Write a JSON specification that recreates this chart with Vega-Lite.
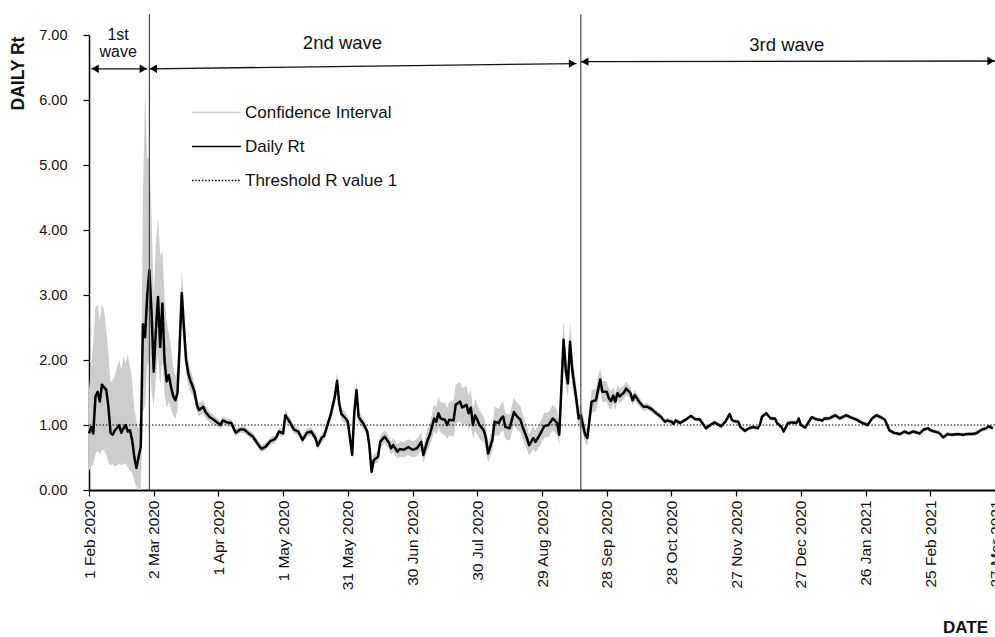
{
  "$schema": "https://vega.github.io/schema/vega-lite/v6.json",
  "width": 906,
  "height": 455,
  "autosize": {"type": "none"},
  "padding": {"left": 89, "top": 35, "right": 0, "bottom": 147},
  "background": "white",
  "config": {
    "font": "Liberation Sans",
    "view": {"stroke": null},
    "axis": {"grid": false, "domainColor": "#000", "tickColor": "#000", "labelColor": "#111", "titleColor": "#111"}
  },
  "datasets": {
    "rt": [
      {"d":"2020-02-01","rt":0.87,"lo":0.30,"hi":1.55},
      {"d":"2020-02-02","rt":0.97,"lo":0.35,"hi":1.90},
      {"d":"2020-02-03","rt":0.87,"lo":0.40,"hi":2.30},
      {"d":"2020-02-04","rt":1.44,"lo":0.55,"hi":2.82},
      {"d":"2020-02-05","rt":1.51,"lo":0.60,"hi":2.85},
      {"d":"2020-02-06","rt":1.36,"lo":0.55,"hi":2.60},
      {"d":"2020-02-07","rt":1.62,"lo":0.62,"hi":2.87},
      {"d":"2020-02-08","rt":1.58,"lo":0.60,"hi":2.75},
      {"d":"2020-02-09","rt":1.54,"lo":0.55,"hi":2.46},
      {"d":"2020-02-10","rt":1.28,"lo":0.42,"hi":2.10},
      {"d":"2020-02-11","rt":0.88,"lo":0.38,"hi":1.64},
      {"d":"2020-02-12","rt":0.85,"lo":0.40,"hi":1.70},
      {"d":"2020-02-13","rt":0.92,"lo":0.36,"hi":1.75},
      {"d":"2020-02-14","rt":0.95,"lo":0.38,"hi":1.90},
      {"d":"2020-02-15","rt":1.00,"lo":0.40,"hi":2.00},
      {"d":"2020-02-16","rt":0.88,"lo":0.38,"hi":1.85},
      {"d":"2020-02-17","rt":0.95,"lo":0.40,"hi":2.05},
      {"d":"2020-02-18","rt":1.00,"lo":0.41,"hi":1.95},
      {"d":"2020-02-19","rt":0.90,"lo":0.35,"hi":2.08},
      {"d":"2020-02-20","rt":0.92,"lo":0.30,"hi":1.90},
      {"d":"2020-02-21","rt":0.77,"lo":0.26,"hi":1.69},
      {"d":"2020-02-22","rt":0.51,"lo":0.15,"hi":1.25},
      {"d":"2020-02-23","rt":0.34,"lo":0.05,"hi":1.05},
      {"d":"2020-02-24","rt":0.51,"lo":0.00,"hi":0.95},
      {"d":"2020-02-25","rt":0.67,"lo":0.00,"hi":1.20},
      {"d":"2020-02-26","rt":2.55,"lo":1.20,"hi":4.50},
      {"d":"2020-02-27","rt":2.35,"lo":1.30,"hi":6.15},
      {"d":"2020-02-28","rt":3.00,"lo":1.90,"hi":5.10},
      {"d":"2020-02-29","rt":3.38,"lo":2.00,"hi":5.10},
      {"d":"2020-03-01","rt":2.72,"lo":1.50,"hi":4.20},
      {"d":"2020-03-02","rt":1.82,"lo":1.30,"hi":3.00},
      {"d":"2020-03-03","rt":2.46,"lo":1.70,"hi":3.80},
      {"d":"2020-03-04","rt":2.97,"lo":2.10,"hi":4.20},
      {"d":"2020-03-05","rt":2.20,"lo":1.60,"hi":3.60},
      {"d":"2020-03-06","rt":2.87,"lo":2.00,"hi":3.70},
      {"d":"2020-03-07","rt":2.00,"lo":1.50,"hi":3.00},
      {"d":"2020-03-08","rt":1.67,"lo":1.25,"hi":2.60},
      {"d":"2020-03-09","rt":1.77,"lo":1.35,"hi":2.40},
      {"d":"2020-03-10","rt":1.59,"lo":1.25,"hi":2.20},
      {"d":"2020-03-11","rt":1.45,"lo":1.15,"hi":1.90},
      {"d":"2020-03-12","rt":1.38,"lo":1.10,"hi":1.75},
      {"d":"2020-03-13","rt":1.49,"lo":1.20,"hi":1.85},
      {"d":"2020-03-14","rt":2.20,"lo":1.85,"hi":2.60},
      {"d":"2020-03-15","rt":3.03,"lo":2.65,"hi":3.38},
      {"d":"2020-03-16","rt":2.50,"lo":2.20,"hi":2.85},
      {"d":"2020-03-17","rt":2.00,"lo":1.80,"hi":2.30},
      {"d":"2020-03-18","rt":1.80,"lo":1.62,"hi":2.00},
      {"d":"2020-03-19","rt":1.68,"lo":1.52,"hi":1.85},
      {"d":"2020-03-20","rt":1.60,"lo":1.45,"hi":1.75},
      {"d":"2020-03-21","rt":1.50,"lo":1.38,"hi":1.64},
      {"d":"2020-03-22","rt":1.31,"lo":1.20,"hi":1.43},
      {"d":"2020-03-23","rt":1.23,"lo":1.13,"hi":1.34},
      {"d":"2020-03-25","rt":1.28,"lo":1.18,"hi":1.38},
      {"d":"2020-03-26","rt":1.20,"lo":1.10,"hi":1.30},
      {"d":"2020-03-28","rt":1.12,"lo":1.04,"hi":1.20},
      {"d":"2020-03-29","rt":1.10,"lo":1.02,"hi":1.18},
      {"d":"2020-03-31","rt":1.05,"lo":0.98,"hi":1.12},
      {"d":"2020-04-02","rt":1.00,"lo":0.94,"hi":1.06},
      {"d":"2020-04-03","rt":1.07,"lo":1.01,"hi":1.13},
      {"d":"2020-04-05","rt":1.04,"lo":0.98,"hi":1.10},
      {"d":"2020-04-07","rt":1.03,"lo":0.97,"hi":1.09},
      {"d":"2020-04-09","rt":0.88,"lo":0.83,"hi":0.94},
      {"d":"2020-04-11","rt":0.93,"lo":0.88,"hi":0.99},
      {"d":"2020-04-13","rt":0.93,"lo":0.88,"hi":0.99},
      {"d":"2020-04-15","rt":0.87,"lo":0.82,"hi":0.93},
      {"d":"2020-04-17","rt":0.82,"lo":0.77,"hi":0.88},
      {"d":"2020-04-19","rt":0.72,"lo":0.67,"hi":0.78},
      {"d":"2020-04-21","rt":0.63,"lo":0.58,"hi":0.69},
      {"d":"2020-04-23","rt":0.67,"lo":0.62,"hi":0.73},
      {"d":"2020-04-25","rt":0.75,"lo":0.70,"hi":0.81},
      {"d":"2020-04-27","rt":0.78,"lo":0.72,"hi":0.84},
      {"d":"2020-04-28","rt":0.82,"lo":0.76,"hi":0.88},
      {"d":"2020-04-29","rt":0.90,"lo":0.84,"hi":0.96},
      {"d":"2020-05-01","rt":0.87,"lo":0.81,"hi":0.93},
      {"d":"2020-05-02","rt":1.15,"lo":1.07,"hi":1.23},
      {"d":"2020-05-04","rt":1.05,"lo":0.98,"hi":1.12},
      {"d":"2020-05-06","rt":0.93,"lo":0.87,"hi":0.99},
      {"d":"2020-05-08","rt":0.90,"lo":0.84,"hi":0.96},
      {"d":"2020-05-10","rt":0.77,"lo":0.71,"hi":0.83},
      {"d":"2020-05-12","rt":0.88,"lo":0.82,"hi":0.95},
      {"d":"2020-05-14","rt":0.90,"lo":0.84,"hi":0.97},
      {"d":"2020-05-16","rt":0.80,"lo":0.74,"hi":0.87},
      {"d":"2020-05-17","rt":0.68,"lo":0.62,"hi":0.75},
      {"d":"2020-05-19","rt":0.81,"lo":0.75,"hi":0.88},
      {"d":"2020-05-20","rt":0.83,"lo":0.77,"hi":0.90},
      {"d":"2020-05-22","rt":1.05,"lo":0.97,"hi":1.13},
      {"d":"2020-05-23","rt":1.15,"lo":1.06,"hi":1.24},
      {"d":"2020-05-25","rt":1.44,"lo":1.33,"hi":1.56},
      {"d":"2020-05-26","rt":1.68,"lo":1.55,"hi":1.82},
      {"d":"2020-05-27","rt":1.33,"lo":1.22,"hi":1.44},
      {"d":"2020-05-28","rt":1.17,"lo":1.08,"hi":1.27},
      {"d":"2020-05-30","rt":1.10,"lo":1.01,"hi":1.19},
      {"d":"2020-05-31","rt":1.05,"lo":0.96,"hi":1.14},
      {"d":"2020-06-02","rt":0.54,"lo":0.48,"hi":0.62},
      {"d":"2020-06-03","rt":1.20,"lo":1.10,"hi":1.30},
      {"d":"2020-06-04","rt":1.54,"lo":1.42,"hi":1.66},
      {"d":"2020-06-05","rt":1.12,"lo":1.03,"hi":1.21},
      {"d":"2020-06-07","rt":1.03,"lo":0.95,"hi":1.11},
      {"d":"2020-06-09","rt":0.90,"lo":0.82,"hi":0.98},
      {"d":"2020-06-10","rt":0.67,"lo":0.60,"hi":0.75},
      {"d":"2020-06-11","rt":0.28,"lo":0.22,"hi":0.36},
      {"d":"2020-06-12","rt":0.46,"lo":0.39,"hi":0.54},
      {"d":"2020-06-14","rt":0.51,"lo":0.43,"hi":0.60},
      {"d":"2020-06-15","rt":0.74,"lo":0.65,"hi":0.84},
      {"d":"2020-06-17","rt":0.82,"lo":0.72,"hi":0.92},
      {"d":"2020-06-19","rt":0.73,"lo":0.63,"hi":0.83},
      {"d":"2020-06-20","rt":0.64,"lo":0.54,"hi":0.74},
      {"d":"2020-06-21","rt":0.69,"lo":0.58,"hi":0.80},
      {"d":"2020-06-23","rt":0.59,"lo":0.48,"hi":0.70},
      {"d":"2020-06-24","rt":0.63,"lo":0.51,"hi":0.75},
      {"d":"2020-06-26","rt":0.62,"lo":0.50,"hi":0.74},
      {"d":"2020-06-28","rt":0.66,"lo":0.54,"hi":0.78},
      {"d":"2020-06-30","rt":0.62,"lo":0.50,"hi":0.75},
      {"d":"2020-07-02","rt":0.64,"lo":0.52,"hi":0.78},
      {"d":"2020-07-04","rt":0.74,"lo":0.60,"hi":0.88},
      {"d":"2020-07-05","rt":0.54,"lo":0.42,"hi":0.68},
      {"d":"2020-07-07","rt":0.77,"lo":0.62,"hi":0.94},
      {"d":"2020-07-08","rt":0.85,"lo":0.68,"hi":1.03},
      {"d":"2020-07-10","rt":1.10,"lo":0.90,"hi":1.32},
      {"d":"2020-07-11","rt":1.05,"lo":0.85,"hi":1.28},
      {"d":"2020-07-12","rt":1.18,"lo":0.96,"hi":1.42},
      {"d":"2020-07-13","rt":1.10,"lo":0.88,"hi":1.35},
      {"d":"2020-07-15","rt":1.08,"lo":0.84,"hi":1.34},
      {"d":"2020-07-16","rt":1.00,"lo":0.78,"hi":1.26},
      {"d":"2020-07-17","rt":1.08,"lo":0.84,"hi":1.36},
      {"d":"2020-07-19","rt":1.07,"lo":0.82,"hi":1.36},
      {"d":"2020-07-20","rt":1.31,"lo":1.02,"hi":1.62},
      {"d":"2020-07-22","rt":1.36,"lo":1.06,"hi":1.66},
      {"d":"2020-07-23","rt":1.27,"lo":0.99,"hi":1.57},
      {"d":"2020-07-25","rt":1.31,"lo":1.03,"hi":1.60},
      {"d":"2020-07-26","rt":1.18,"lo":0.92,"hi":1.46},
      {"d":"2020-07-27","rt":1.27,"lo":1.00,"hi":1.55},
      {"d":"2020-07-28","rt":1.00,"lo":0.78,"hi":1.25},
      {"d":"2020-07-29","rt":1.15,"lo":0.91,"hi":1.40},
      {"d":"2020-07-30","rt":1.08,"lo":0.85,"hi":1.32},
      {"d":"2020-07-31","rt":1.00,"lo":0.79,"hi":1.23},
      {"d":"2020-08-02","rt":0.92,"lo":0.73,"hi":1.13},
      {"d":"2020-08-03","rt":0.80,"lo":0.63,"hi":0.99},
      {"d":"2020-08-04","rt":0.56,"lo":0.42,"hi":0.72},
      {"d":"2020-08-06","rt":0.77,"lo":0.60,"hi":0.96},
      {"d":"2020-08-07","rt":1.05,"lo":0.84,"hi":1.28},
      {"d":"2020-08-09","rt":1.03,"lo":0.83,"hi":1.25},
      {"d":"2020-08-10","rt":1.10,"lo":0.89,"hi":1.33},
      {"d":"2020-08-11","rt":1.13,"lo":0.92,"hi":1.36},
      {"d":"2020-08-12","rt":0.97,"lo":0.78,"hi":1.18},
      {"d":"2020-08-14","rt":0.95,"lo":0.76,"hi":1.16},
      {"d":"2020-08-16","rt":1.20,"lo":0.99,"hi":1.42},
      {"d":"2020-08-17","rt":1.15,"lo":0.95,"hi":1.36},
      {"d":"2020-08-19","rt":1.08,"lo":0.89,"hi":1.29},
      {"d":"2020-08-20","rt":0.97,"lo":0.79,"hi":1.17},
      {"d":"2020-08-22","rt":0.80,"lo":0.63,"hi":0.98},
      {"d":"2020-08-23","rt":0.69,"lo":0.53,"hi":0.86},
      {"d":"2020-08-25","rt":0.80,"lo":0.63,"hi":0.98},
      {"d":"2020-08-26","rt":0.74,"lo":0.58,"hi":0.92},
      {"d":"2020-08-28","rt":0.85,"lo":0.68,"hi":1.04},
      {"d":"2020-08-30","rt":0.98,"lo":0.80,"hi":1.18},
      {"d":"2020-09-01","rt":1.00,"lo":0.82,"hi":1.20},
      {"d":"2020-09-03","rt":1.10,"lo":0.91,"hi":1.31},
      {"d":"2020-09-05","rt":1.03,"lo":0.85,"hi":1.23},
      {"d":"2020-09-06","rt":0.85,"lo":0.69,"hi":1.03},
      {"d":"2020-09-08","rt":2.31,"lo":2.00,"hi":2.62},
      {"d":"2020-09-09","rt":1.85,"lo":1.60,"hi":2.12},
      {"d":"2020-09-10","rt":1.64,"lo":1.42,"hi":1.88},
      {"d":"2020-09-11","rt":2.28,"lo":1.98,"hi":2.60},
      {"d":"2020-09-12","rt":1.85,"lo":1.60,"hi":2.12},
      {"d":"2020-09-14","rt":1.38,"lo":1.19,"hi":1.59},
      {"d":"2020-09-15","rt":1.10,"lo":0.94,"hi":1.27},
      {"d":"2020-09-16","rt":1.15,"lo":0.99,"hi":1.32},
      {"d":"2020-09-17","rt":1.00,"lo":0.86,"hi":1.16},
      {"d":"2020-09-18","rt":0.85,"lo":0.72,"hi":0.99},
      {"d":"2020-09-19","rt":0.80,"lo":0.68,"hi":0.94},
      {"d":"2020-09-20","rt":1.08,"lo":0.93,"hi":1.24},
      {"d":"2020-09-21","rt":1.36,"lo":1.19,"hi":1.54},
      {"d":"2020-09-23","rt":1.38,"lo":1.21,"hi":1.56},
      {"d":"2020-09-24","rt":1.54,"lo":1.36,"hi":1.73},
      {"d":"2020-09-25","rt":1.70,"lo":1.52,"hi":1.88},
      {"d":"2020-09-26","rt":1.51,"lo":1.35,"hi":1.68},
      {"d":"2020-09-28","rt":1.51,"lo":1.36,"hi":1.67},
      {"d":"2020-09-29","rt":1.41,"lo":1.27,"hi":1.56},
      {"d":"2020-09-30","rt":1.37,"lo":1.23,"hi":1.51},
      {"d":"2020-10-01","rt":1.45,"lo":1.32,"hi":1.59},
      {"d":"2020-10-02","rt":1.36,"lo":1.24,"hi":1.49},
      {"d":"2020-10-03","rt":1.49,"lo":1.37,"hi":1.62},
      {"d":"2020-10-04","rt":1.44,"lo":1.33,"hi":1.56},
      {"d":"2020-10-06","rt":1.50,"lo":1.40,"hi":1.61},
      {"d":"2020-10-07","rt":1.56,"lo":1.46,"hi":1.66},
      {"d":"2020-10-09","rt":1.49,"lo":1.40,"hi":1.58},
      {"d":"2020-10-10","rt":1.38,"lo":1.30,"hi":1.46},
      {"d":"2020-10-11","rt":1.46,"lo":1.38,"hi":1.54},
      {"d":"2020-10-13","rt":1.36,"lo":1.29,"hi":1.43},
      {"d":"2020-10-15","rt":1.28,"lo":1.22,"hi":1.34},
      {"d":"2020-10-17","rt":1.28,"lo":1.23,"hi":1.33},
      {"d":"2020-10-19","rt":1.24,"lo":1.19,"hi":1.29},
      {"d":"2020-10-21","rt":1.18,"lo":1.14,"hi":1.22},
      {"d":"2020-10-23","rt":1.13,"lo":1.09,"hi":1.17},
      {"d":"2020-10-25","rt":1.05,"lo":1.01,"hi":1.09},
      {"d":"2020-10-26","rt":1.07,"lo":1.03,"hi":1.11},
      {"d":"2020-10-28","rt":1.05,"lo":1.01,"hi":1.09},
      {"d":"2020-10-29","rt":1.02,"lo":0.98,"hi":1.06},
      {"d":"2020-10-30","rt":1.07,"lo":1.03,"hi":1.11},
      {"d":"2020-11-01","rt":1.03,"lo":1.00,"hi":1.06},
      {"d":"2020-11-02","rt":1.05,"lo":1.02,"hi":1.08},
      {"d":"2020-11-04","rt":1.09,"lo":1.06,"hi":1.12},
      {"d":"2020-11-06","rt":1.14,"lo":1.11,"hi":1.17},
      {"d":"2020-11-08","rt":1.09,"lo":1.06,"hi":1.12},
      {"d":"2020-11-10","rt":1.09,"lo":1.06,"hi":1.12},
      {"d":"2020-11-12","rt":1.00,"lo":0.97,"hi":1.03},
      {"d":"2020-11-13","rt":0.95,"lo":0.92,"hi":0.98},
      {"d":"2020-11-15","rt":1.00,"lo":0.97,"hi":1.03},
      {"d":"2020-11-17","rt":1.04,"lo":1.01,"hi":1.07},
      {"d":"2020-11-18","rt":1.02,"lo":0.99,"hi":1.05},
      {"d":"2020-11-20","rt":0.98,"lo":0.95,"hi":1.01},
      {"d":"2020-11-22","rt":1.05,"lo":1.02,"hi":1.08},
      {"d":"2020-11-24","rt":1.17,"lo":1.14,"hi":1.20},
      {"d":"2020-11-25","rt":1.08,"lo":1.05,"hi":1.11},
      {"d":"2020-11-26","rt":1.06,"lo":1.03,"hi":1.09},
      {"d":"2020-11-28","rt":1.05,"lo":1.02,"hi":1.08},
      {"d":"2020-11-29","rt":0.97,"lo":0.94,"hi":1.00},
      {"d":"2020-12-01","rt":0.91,"lo":0.88,"hi":0.94},
      {"d":"2020-12-03","rt":0.95,"lo":0.92,"hi":0.98},
      {"d":"2020-12-05","rt":0.97,"lo":0.94,"hi":1.00},
      {"d":"2020-12-07","rt":0.95,"lo":0.92,"hi":0.98},
      {"d":"2020-12-08","rt":1.00,"lo":0.97,"hi":1.03},
      {"d":"2020-12-09","rt":1.13,"lo":1.10,"hi":1.16},
      {"d":"2020-12-11","rt":1.18,"lo":1.15,"hi":1.21},
      {"d":"2020-12-13","rt":1.10,"lo":1.07,"hi":1.13},
      {"d":"2020-12-15","rt":1.10,"lo":1.07,"hi":1.13},
      {"d":"2020-12-16","rt":1.03,"lo":1.00,"hi":1.06},
      {"d":"2020-12-18","rt":0.97,"lo":0.94,"hi":1.00},
      {"d":"2020-12-19","rt":0.90,"lo":0.87,"hi":0.93},
      {"d":"2020-12-21","rt":1.03,"lo":1.00,"hi":1.06},
      {"d":"2020-12-23","rt":1.04,"lo":1.01,"hi":1.07},
      {"d":"2020-12-25","rt":1.03,"lo":1.00,"hi":1.06},
      {"d":"2020-12-26","rt":1.10,"lo":1.07,"hi":1.13},
      {"d":"2020-12-27","rt":1.00,"lo":0.97,"hi":1.03},
      {"d":"2020-12-29","rt":0.96,"lo":0.93,"hi":0.99},
      {"d":"2021-01-01","rt":1.12,"lo":1.09,"hi":1.15},
      {"d":"2021-01-03","rt":1.09,"lo":1.06,"hi":1.12},
      {"d":"2021-01-06","rt":1.07,"lo":1.04,"hi":1.10},
      {"d":"2021-01-07","rt":1.10,"lo":1.07,"hi":1.13},
      {"d":"2021-01-09","rt":1.10,"lo":1.07,"hi":1.13},
      {"d":"2021-01-12","rt":1.15,"lo":1.12,"hi":1.18},
      {"d":"2021-01-14","rt":1.10,"lo":1.07,"hi":1.13},
      {"d":"2021-01-17","rt":1.15,"lo":1.12,"hi":1.18},
      {"d":"2021-01-19","rt":1.12,"lo":1.09,"hi":1.15},
      {"d":"2021-01-22","rt":1.08,"lo":1.05,"hi":1.11},
      {"d":"2021-01-24","rt":1.04,"lo":1.01,"hi":1.07},
      {"d":"2021-01-27","rt":1.00,"lo":0.97,"hi":1.03},
      {"d":"2021-01-29","rt":1.10,"lo":1.07,"hi":1.13},
      {"d":"2021-01-31","rt":1.15,"lo":1.12,"hi":1.18},
      {"d":"2021-02-02","rt":1.12,"lo":1.09,"hi":1.15},
      {"d":"2021-02-04","rt":1.08,"lo":1.05,"hi":1.11},
      {"d":"2021-02-06","rt":0.92,"lo":0.89,"hi":0.95},
      {"d":"2021-02-08","rt":0.88,"lo":0.85,"hi":0.91},
      {"d":"2021-02-11","rt":0.86,"lo":0.83,"hi":0.89},
      {"d":"2021-02-13","rt":0.90,"lo":0.87,"hi":0.93},
      {"d":"2021-02-15","rt":0.87,"lo":0.84,"hi":0.90},
      {"d":"2021-02-17","rt":0.90,"lo":0.87,"hi":0.93},
      {"d":"2021-02-19","rt":0.88,"lo":0.85,"hi":0.91},
      {"d":"2021-02-20","rt":0.87,"lo":0.84,"hi":0.90},
      {"d":"2021-02-22","rt":0.93,"lo":0.90,"hi":0.96},
      {"d":"2021-02-24","rt":0.95,"lo":0.92,"hi":0.98},
      {"d":"2021-02-25","rt":0.92,"lo":0.89,"hi":0.95},
      {"d":"2021-02-27","rt":0.90,"lo":0.87,"hi":0.93},
      {"d":"2021-03-01","rt":0.88,"lo":0.85,"hi":0.91},
      {"d":"2021-03-03","rt":0.81,"lo":0.78,"hi":0.84},
      {"d":"2021-03-05","rt":0.86,"lo":0.83,"hi":0.89},
      {"d":"2021-03-07","rt":0.85,"lo":0.82,"hi":0.88},
      {"d":"2021-03-10","rt":0.86,"lo":0.83,"hi":0.89},
      {"d":"2021-03-12","rt":0.85,"lo":0.82,"hi":0.88},
      {"d":"2021-03-14","rt":0.86,"lo":0.83,"hi":0.89},
      {"d":"2021-03-16","rt":0.86,"lo":0.83,"hi":0.89},
      {"d":"2021-03-18","rt":0.87,"lo":0.84,"hi":0.90},
      {"d":"2021-03-21","rt":0.93,"lo":0.90,"hi":0.96},
      {"d":"2021-03-23","rt":0.95,"lo":0.92,"hi":0.98},
      {"d":"2021-03-24","rt":0.98,"lo":0.95,"hi":1.01},
      {"d":"2021-03-26","rt":0.95,"lo":0.92,"hi":0.98}
    ],
    "threshold": [{"r": 1}],
    "arrows": [
      {"x1":"2020-02-02","x2":"2020-02-28","y1":6.48,"y2":6.48},
      {"x1":"2020-02-29","x2":"2020-09-14","y1":6.48,"y2":6.56},
      {"x1":"2020-09-16","x2":"2021-03-27","y1":6.59,"y2":6.6}
    ],
    "dividers": [
      {"d":"2020-02-29","bottom":0,"top":7.32},
      {"d":"2020-09-16","bottom":0,"top":7.32}
    ],
    "firstWave": [{"d":"2020-02-14T12:00:00Z","v":7.0,"label":"1st\nwave"}],
    "laterWaves": [
      {"d":"2020-05-28T12:00:00Z","v":6.88,"label":"2nd wave"},
      {"d":"2020-12-20T12:00:00Z","v":6.85,"label":"3rd wave"}
    ]
  },
  "layer": [
    {
      "data": {"name": "rt"},
      "mark": {"type": "area", "opacity": 1},
      "encoding": {
        "x": {
          "field": "d", "type": "temporal", "title": "DATE",
          "scale": {"type": "utc", "domain": [1580515200000, 1616803200000]},
          "axis": {
            "values": [1580515200000,1583107200000,1585699200000,1588291200000,1590883200000,1593475200000,1596067200000,1598659200000,1601251200000,1603843200000,1606435200000,1609027200000,1611619200000,1614211200000,1616803200000],
            "format": "%-d %b %Y",
            "labelAngle": -90, "labelFontSize": 15.5, "labelPadding": 4,
            "tickSize": 6, "tickWidth": 1.2, "domainWidth": 2,
            "titleFontSize": 17, "titleFontWeight": "bold",
            "titleX": 876, "titleY": 137, "titleAlign": "center", "titleBaseline": "middle", "titleAngle": 0
          }
        },
        "y": {
          "field": "lo", "type": "quantitative", "title": "DAILY Rt",
          "scale": {"domain": [0, 7], "nice": false, "zero": false},
          "axis": {
            "values": [0,1,2,3,4,5,6,7], "format": ".2f",
            "labelFontSize": 14.5, "labelPadding": 16,
            "tickSize": 6, "tickWidth": 1.2, "domainWidth": 1.5,
            "titleFontSize": 17.5, "titleFontWeight": "bold",
            "titleX": -71, "titleY": 38, "titleAngle": -90, "titleAlign": "center", "titleBaseline": "middle"
          }
        },
        "y2": {"field": "hi"},
        "color": {
          "datum": "Confidence Interval",
          "scale": {"domain": ["Confidence Interval", "Daily Rt", "Threshold R value 1"], "range": ["#cdcdcd", "#000000", "#000000"]},
          "legend": {
            "orient": "none", "legendX": 102, "legendY": 52, "title": null,
            "symbolType": "stroke", "symbolSize": 2401,
            "labelFontSize": 17, "labelColor": "#111", "labelOffset": 3, "rowPadding": -1
          }
        }
      }
    },
    {
      "data": {"name": "threshold"},
      "mark": {"type": "rule"},
      "encoding": {
        "y": {"field": "r", "type": "quantitative", "title": "DAILY Rt", "scale": {"domain": [0, 7], "nice": false, "zero": false}},
        "color": {"datum": "Threshold R value 1"},
        "strokeDash": {
          "datum": "Threshold R value 1",
          "scale": {"domain": ["Confidence Interval", "Daily Rt", "Threshold R value 1"], "range": [[1, 0], [1, 0], [1.5, 1.8]]}
        },
        "strokeWidth": {
          "datum": "Threshold R value 1", "type": "ordinal", "legend": null,
          "scale": {"type": "ordinal", "domain": ["Confidence Interval", "Daily Rt", "Threshold R value 1"], "range": [9, 2.8, 1.1]}
        }
      }
    },
    {
      "data": {"name": "rt"},
      "mark": {"type": "line", "strokeJoin": "round"},
      "encoding": {
        "x": {"field": "d", "type": "temporal", "title": "DATE", "scale": {"type": "utc", "domain": [1580515200000, 1616803200000]}},
        "y": {"field": "rt", "type": "quantitative", "title": "DAILY Rt", "scale": {"domain": [0, 7], "nice": false, "zero": false}},
        "color": {"datum": "Daily Rt"},
        "strokeDash": {"datum": "Daily Rt"},
        "strokeWidth": {"datum": "Daily Rt", "type": "ordinal", "legend": null}
      }
    },
    {
      "data": {"name": "dividers"},
      "mark": {"type": "rule", "color": "#4a4a4a", "strokeWidth": 1.2},
      "encoding": {
        "x": {"field": "d", "type": "temporal", "title": "DATE", "scale": {"type": "utc", "domain": [1580515200000, 1616803200000]}},
        "y": {"field": "bottom", "type": "quantitative", "title": "DAILY Rt", "scale": {"domain": [0, 7], "nice": false, "zero": false}},
        "y2": {"field": "top"}
      }
    },
    {
      "data": {"name": "arrows"},
      "mark": {"type": "rule", "color": "#111", "strokeWidth": 1.3},
      "encoding": {
        "x": {"field": "x1", "type": "temporal", "title": "DATE", "scale": {"type": "utc", "domain": [1580515200000, 1616803200000]}},
        "x2": {"field": "x2"},
        "y": {"field": "y1", "type": "quantitative", "title": "DAILY Rt", "scale": {"domain": [0, 7], "nice": false, "zero": false}},
        "y2": {"field": "y2"}
      }
    },
    {
      "data": {"name": "arrows"},
      "mark": {"type": "point", "shape": "triangle-left", "filled": true, "color": "#000", "opacity": 1, "size": 70, "xOffset": 4},
      "encoding": {
        "x": {"field": "x1", "type": "temporal", "title": "DATE", "scale": {"type": "utc", "domain": [1580515200000, 1616803200000]}},
        "y": {"field": "y1", "type": "quantitative", "title": "DAILY Rt", "scale": {"domain": [0, 7], "nice": false, "zero": false}}
      }
    },
    {
      "data": {"name": "arrows"},
      "mark": {"type": "point", "shape": "triangle-right", "filled": true, "color": "#000", "opacity": 1, "size": 70, "xOffset": -4},
      "encoding": {
        "x": {"field": "x2", "type": "temporal", "title": "DATE", "scale": {"type": "utc", "domain": [1580515200000, 1616803200000]}},
        "y": {"field": "y2", "type": "quantitative", "title": "DAILY Rt", "scale": {"domain": [0, 7], "nice": false, "zero": false}}
      }
    },
    {
      "data": {"name": "firstWave"},
      "mark": {"type": "text", "fontSize": 16, "color": "#111", "lineBreak": "\n", "lineHeight": 17, "align": "center", "baseline": "middle"},
      "encoding": {
        "x": {"field": "d", "type": "temporal", "title": "DATE", "scale": {"type": "utc", "domain": [1580515200000, 1616803200000]}},
        "y": {"field": "v", "type": "quantitative", "title": "DAILY Rt", "scale": {"domain": [0, 7], "nice": false, "zero": false}},
        "text": {"field": "label"}
      }
    },
    {
      "data": {"name": "laterWaves"},
      "mark": {"type": "text", "fontSize": 18.5, "color": "#111", "align": "center", "baseline": "middle"},
      "encoding": {
        "x": {"field": "d", "type": "temporal", "title": "DATE", "scale": {"type": "utc", "domain": [1580515200000, 1616803200000]}},
        "y": {"field": "v", "type": "quantitative", "title": "DAILY Rt", "scale": {"domain": [0, 7], "nice": false, "zero": false}},
        "text": {"field": "label"}
      }
    }
  ]
}
